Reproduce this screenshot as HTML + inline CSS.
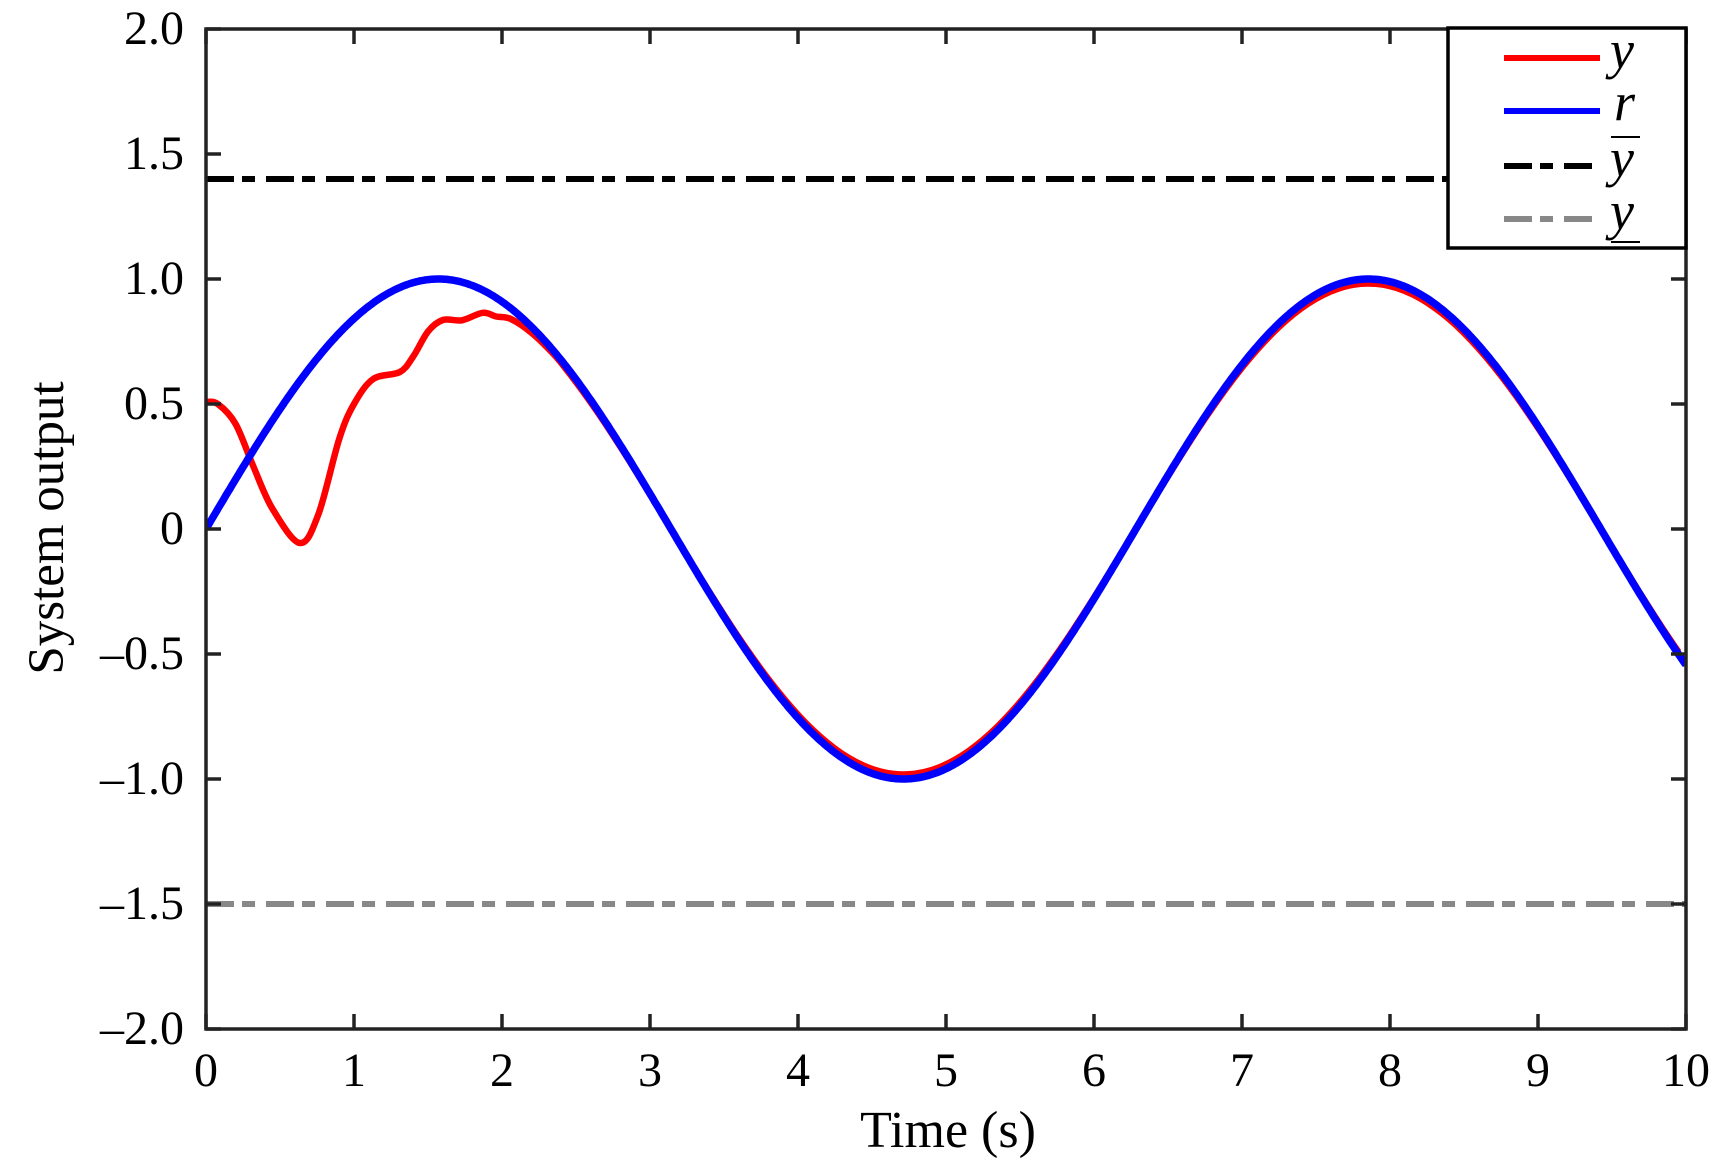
<!DOCTYPE html>
<html><head><meta charset="utf-8"><style>
html,body{margin:0;padding:0;background:#fff}
svg text{font-family:"Liberation Serif",serif;fill:#000}
</style></head><body>
<svg id="s" width="1732" height="1160" viewBox="0 0 1732 1160" xmlns="http://www.w3.org/2000/svg">
<defs><clipPath id="c"><rect x="206" y="29" width="1480" height="1000"/></clipPath></defs>
<g clip-path="url(#c)">
<line x1="206" y1="179" x2="1686" y2="179" stroke="#000" stroke-width="6" stroke-dasharray="28 8 13 11"/>
<line x1="206" y1="904" x2="1686" y2="904" stroke="#888" stroke-width="6" stroke-dasharray="28 8 13 11"/>
<path id="red" fill="none" stroke="#f00" stroke-width="6.5" stroke-linejoin="round"/>
<path id="blue" fill="none" stroke="#00f" stroke-width="7.5" stroke-linejoin="round"/>
</g>
<g id="ax" stroke="#222" stroke-width="3.5" fill="none"></g>
<g id="lbl" font-size="48"></g>
<text x="948" y="1147" font-size="52" text-anchor="middle">Time (s)</text>
<text font-size="51" text-anchor="middle" transform="translate(63 528) rotate(-90)">System output</text>
<rect x="1448" y="28" width="238" height="220" fill="#fff" stroke="#000" stroke-width="3.5"/>
<line x1="1504" y1="58" x2="1600" y2="58" stroke="#f00" stroke-width="6"/>
<line x1="1504" y1="111" x2="1600" y2="111" stroke="#00f" stroke-width="6"/>
<line x1="1504" y1="166" x2="1600" y2="166" stroke="#000" stroke-width="6" stroke-dasharray="28 8 13 11"/>
<line x1="1504" y1="219" x2="1600" y2="219" stroke="#888" stroke-width="6" stroke-dasharray="28 8 13 11"/>
<g font-size="54" font-style="italic">
<text x="1610" y="68">y</text>
<text x="1614" y="120">r</text>
<text x="1610" y="176">y</text>
<text x="1610" y="229">y</text>
</g>
<line x1="1611" y1="137" x2="1640" y2="137" stroke="#000" stroke-width="2"/>
<line x1="1611" y1="242" x2="1640" y2="242" stroke="#000" stroke-width="2"/>
</svg>
<script>
var X=function(t){return 206+148*t},Y=function(v){return 529-250*v};
var b="";for(var i=0;i<=1000;i++){var t=i/100;b+=(i?"L":"M")+X(t).toFixed(1)+" "+Y(Math.sin(t)).toFixed(1);}
document.getElementById("blue").setAttribute("d",b);
var k=[[0,0.508],[0.08,0.5],[0.2,0.42],[0.32,0.25],[0.45,0.08],[0.635,-0.056],[0.76,0.06],[0.9,0.36],[1.0,0.5],[1.13,0.6],[1.31,0.628],[1.4,0.69],[1.5,0.79],[1.6,0.836],[1.73,0.835],[1.87,0.865],[1.96,0.85],[2.06,0.84],[2.2,0.785]];
for(var t=2.35;t<=10.01;t+=0.1)k.push([t,0.982*Math.sin(t)]);
var r="M"+X(k[0][0])+" "+Y(k[0][1]);
for(var i=0;i<k.length-1;i++){var p0=k[Math.max(0,i-1)],p1=k[i],p2=k[i+1],p3=k[Math.min(k.length-1,i+2)];
var a=[X(p0[0]),Y(p0[1])],B=[X(p1[0]),Y(p1[1])],C=[X(p2[0]),Y(p2[1])],D=[X(p3[0]),Y(p3[1])];
r+="C"+(B[0]+(C[0]-a[0])/6).toFixed(1)+" "+(B[1]+(C[1]-a[1])/6).toFixed(1)+" "+(C[0]-(D[0]-B[0])/6).toFixed(1)+" "+(C[1]-(D[1]-B[1])/6).toFixed(1)+" "+C[0].toFixed(1)+" "+C[1].toFixed(1);}
document.getElementById("red").setAttribute("d",r);
var ax='<rect x="206" y="29" width="1480" height="1000"/>',L="";
for(var i=0;i<=10;i++){var x=X(i);ax+='<line x1="'+x+'" y1="1029" x2="'+x+'" y2="1014"/><line x1="'+x+'" y1="29" x2="'+x+'" y2="44"/>';
L+='<text x="'+x+'" y="1086" text-anchor="middle">'+i+'</text>';}
var yl=["2.0","1.5","1.0","0.5","0","\u20130.5","\u20131.0","\u20131.5","\u20132.0"];
for(var j=0;j<9;j++){var v=2-0.5*j,y=Y(v);ax+='<line x1="206" y1="'+y+'" x2="221" y2="'+y+'"/><line x1="1686" y1="'+y+'" x2="1671" y2="'+y+'"/>';
L+='<text x="184" y="'+(y+15)+'" text-anchor="end">'+yl[j]+'</text>';}
document.getElementById("ax").innerHTML=ax;document.getElementById("lbl").innerHTML=L;
</script>
</body></html>
